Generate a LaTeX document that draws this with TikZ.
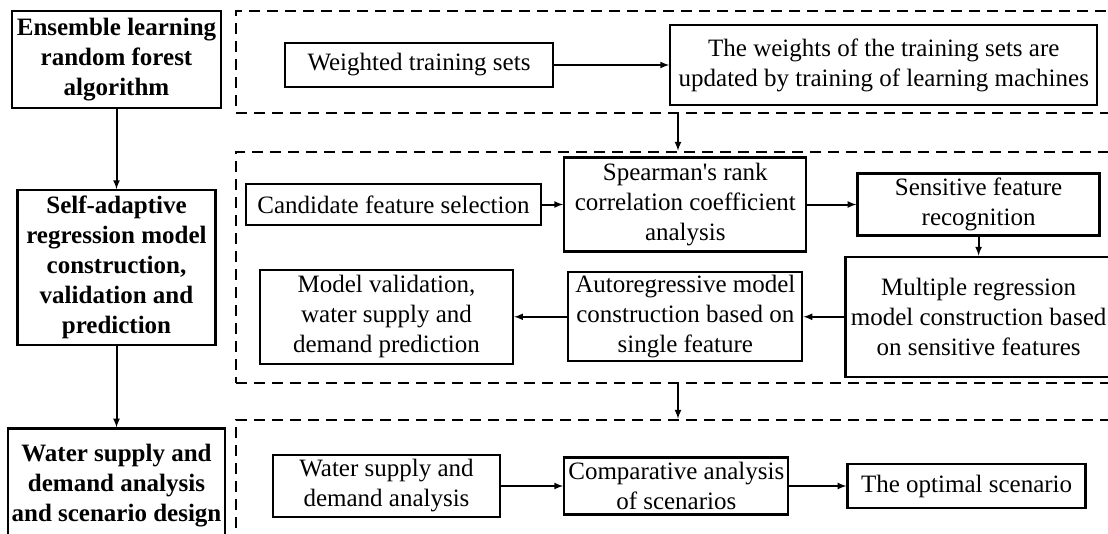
\documentclass[tikz,border=0pt]{standalone}
\usepackage{fontspec}
\setmainfont{Liberation Serif}
\usepackage{tikz}
\usetikzlibrary{positioning}

\tikzset{
	box/.style = {draw, line width=2.3pt, align=center, inner sep=1pt, font=\fontsize{25}{30}\selectfont},
	hbox/.style = {box, font=\fontsize{25}{30}\selectfont\bfseries},
	frame/.style = {draw, line width=2.6pt, dash pattern=on 11pt off 7pt},
	arr/.style = {->, >=latex, line width=2pt}
}

\begin{document}
\begin{tikzpicture}[x=1pt, y=-1pt]
	\clip (0,0) rectangle (1108,533);

	%left column
	\node[hbox, minimum width=209pt, minimum height=97pt] (rf) at (116.5,59.5) {Ensemble learning\\random forest\\algorithm};
	\node[hbox, minimum width=198pt, minimum height=155pt, below = 80pt of rf] (sar) {Self-adaptive\\regression model\\construction,\\validation and\\prediction};
	\node[hbox, minimum width=217pt, minimum height=114pt, below = 81pt of sar] (wsd) {Water supply and\\demand analysis\\and scenario design};

	%dashed frames
	\node[frame, minimum width=879pt, minimum height=102pt] (train) at (675.5,62) {};
	\node[frame, minimum width=879pt, minimum height=231pt] (model) at (675.5,267.5) {};
	\node[frame, minimum width=879pt, minimum height=125pt] (scen) at (675.5,482.5) {};
	\coordinate (link) at (678,0);

	%training
	\node[box, minimum width=268pt, minimum height=44pt] (wts) at (419,65) {Weighted training sets};
	\node[box, minimum width=427pt, minimum height=80pt, right = 115pt of wts] (upd) {The weights of the training sets are\\updated by training of learning machines};

	%model
	\node[box, minimum width=295pt, minimum height=41pt] (cand) at (393.5,204.5) {Candidate feature selection};
	\node[box, minimum width=242pt, minimum height=94pt, right = 21pt of cand] (spear) {Spearman\textquotesingle s rank\\correlation coefficient\\analysis};
	\node[box, minimum width=242pt, minimum height=62pt, right = 49pt of spear] (sens) {Sensitive feature\\recognition};
	\node[box, minimum width=266pt, minimum height=120pt, below = 19pt of sens] (multi) {Multiple regression\\model construction based\\on sensitive features};
	\node[box, minimum width=234pt, minimum height=89pt, left = 41pt of multi] (ar) {Autoregressive model\\construction based on\\single feature};
	\node[box, minimum width=253pt, minimum height=94pt, left = 53pt of ar] (valid) {Model validation,\\water supply and\\demand prediction};

	%scenarios
	\node[box, minimum width=227pt, minimum height=62pt] (wsa) at (386.5,486) {Water supply and\\demand analysis};
	\node[box, minimum width=224pt, minimum height=57pt, right = 62pt of wsa] (comp) {Comparative analysis\\of scenarios};
	\node[box, minimum width=238pt, minimum height=44pt, right = 57pt of comp] (opt) {The optimal scenario};

	%edges
	\draw[arr] (rf) -- (sar);
	\draw[arr] (sar) -- (wsd);
	\draw[arr] (train.south -| link) -- (model.north -| link);
	\draw[arr] (model.south -| link) -- (scen.north -| link);
	\draw[arr] (wts) -- (upd);
	\draw[arr] (cand) -- (spear);
	\draw[arr] (spear) -- (sens);
	\draw[arr] (sens) -- (multi);
	\draw[arr] (multi) -- (ar);
	\draw[arr] (ar) -- (valid);
	\draw[arr] (wsa) -- (comp);
	\draw[arr] (comp) -- (opt);
\end{tikzpicture}
\end{document}
